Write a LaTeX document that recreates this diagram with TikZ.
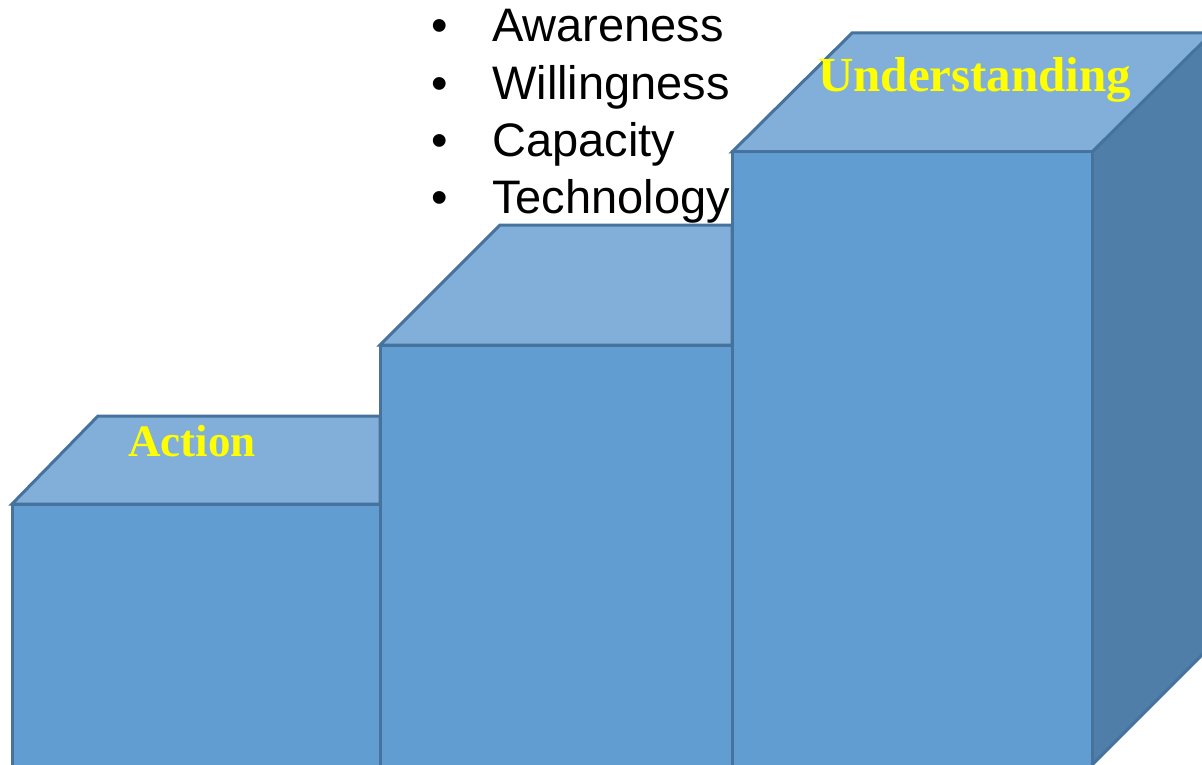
\documentclass[tikz,border=0pt]{standalone}
\usepackage{fontspec}
\setmainfont{Liberation Sans}
\newfontfamily\labelfont{Liberation Serif}
\definecolor{frontc}{HTML}{629DD1}
\definecolor{topc}{HTML}{82AFDA}
\definecolor{sidec}{HTML}{4F7EA9}
\definecolor{edgec}{HTML}{46729E}
\definecolor{labelc}{HTML}{FFFF00}
\tikzset{
  face/.style={draw=edgec, line width=3pt, line join=miter},
  frontface/.style={face, fill=frontc},
  topface/.style={face, fill=topc},
  sideface/.style={face, fill=sidec},
  steplabel/.style={anchor=base west, inner sep=0pt, text=labelc, font=\labelfont\bfseries\fontsize{49}{49}\selectfont},
  bullettext/.style={anchor=base west, inner sep=0pt, font=\fontsize{47}{47}\selectfont},
  bulletdot/.style={anchor=base, inner sep=0pt, font=\fontsize{47}{47}\selectfont}
}
\begin{document}
\begin{tikzpicture}[x=1pt, y=-1pt]
\useasboundingbox (0,0) rectangle (1202,765);
% bullet list (behind boxes)
\node[bulletdot] (b1) at (440,42) {•};
\node[bullettext] (t1) at (492,42) {Awareness};
\node[bulletdot] (b2) at (440,100) {•};
\node[bullettext] (t2) at (492,100) {Willingness};
\node[bulletdot] (b3) at (440,157) {•};
\node[bullettext] (t3) at (492,157) {Capacity};
\node[bulletdot] (b4) at (440,213) {•};
\node[bullettext] (t4) at (492,213) {Technology};
\begin{scope}
\clip (0,0) rectangle (1202,765);
% box 1
\draw[topface] (12,504) -- (98,416) -- (380,416) -- (380,504) -- cycle;
\draw[frontface] (12,504) rectangle (380,767);
% box 2
\draw[topface] (380,345) -- (500,225) -- (732,225) -- (732,345) -- cycle;
\draw[frontface] (380,345) rectangle (732,767);
% box 3
\draw[sideface] (1092,152) -- (1212,32) -- (1212,645) -- (1092,765) -- cycle;
\draw[topface] (732,152) -- (852,33) -- (1212,33) -- (1092,152) -- cycle;
\draw[frontface] (732,152) rectangle (1092,767);
\end{scope}
\node[steplabel, font=\labelfont\bfseries\fontsize{45}{45}\selectfont] (action) at (128,456) {Action};
\node[steplabel] (under) at (818,92) {Understanding};
\end{tikzpicture}
\end{document}
